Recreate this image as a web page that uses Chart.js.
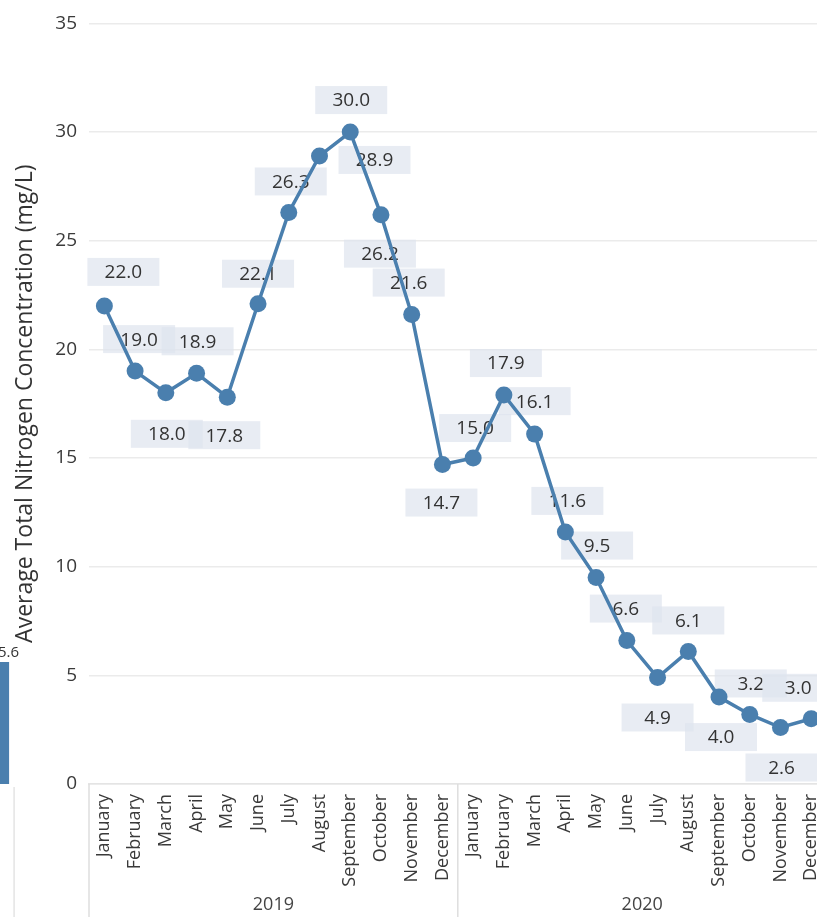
<!DOCTYPE html>
<html>
<head>
<meta charset="utf-8">
<script src="https://cdn.jsdelivr.net/npm/chart.js@4.4.1/dist/chart.umd.min.js"></script>
<style>
  html, body { margin: 0; padding: 0; background: #fff; overflow: hidden; }
  #side { position: absolute; left: -80px; top: 0; width: 100px; height: 917px; }
  #wrap { position: absolute; left: 0; top: 0; width: 843px; height: 917px; }
</style>
</head>
<body>
<div id="side"><canvas id="sideChart"></canvas></div>
<div id="wrap"><canvas id="chart"></canvas></div>
<script>
const months = ['January', 'February', 'March', 'April', 'May', 'June', 'July',
  'August', 'September', 'October', 'November', 'December'];
const years = ['2019', '2020'];
const nitrogen2019 = [22.0, 19.0, 18.0, 18.9, 17.8, 22.1, 26.3, 28.9, 30.0, 26.2, 21.6, 14.7];
const nitrogen2020 = [15.0, 17.9, 16.1, 11.6, 9.5, 6.6, 4.9, 6.1, 4.0, 3.2, 2.6, 3.0];
const yMin = 0;
const yMax = 35;
const yStep = 5;
// the cut-off bar of the neighbouring chart on the far left
const sideValues = [5.6];

const lineColor = '#4a7fae';
// where each value box sits relative to its point (styling only)
const labelOffsets = [
  [19, -34], [4, -32], [1, 41], [1, -32], [-3, 38], [0, -30],
  [2, -31], [55, 4], [1, -32], [-1, 39], [-3, -32], [-1, 38],
  [2, -30], [2, -32], [0, -33], [2, -31], [1, -32], [-1, -32],
  [0, 40], [0, -31], [2, 40], [1, -31], [1, 40], [-13, -31]
];

Chart.defaults.font.family = '"Open Sans", sans-serif';
Chart.defaults.color = '#444';

const pointLabels = {
  id: 'pointLabels',
  beforeDatasetsDraw(chart) {
    const ctx = chart.ctx;
    const meta = chart.getDatasetMeta(0);
    const values = chart.data.datasets[0].data;
    ctx.save();
    ctx.font = '19px "Open Sans", sans-serif';
    ctx.textAlign = 'center';
    ctx.textBaseline = 'middle';
    meta.data.forEach((pt, i) => {
      const [dx, dy] = labelOffsets[i];
      const x = pt.x + dx;
      const y = pt.y + dy;
      ctx.fillStyle = 'rgba(222, 228, 238, 0.7)';
      ctx.fillRect(x - 36, y - 14, 72, 28);
      ctx.fillStyle = '#333';
      ctx.fillText(values[i].toFixed(1), x, y + 1);
    });
    ctx.restore();
  }
};

const yearGroups = {
  id: 'yearGroups',
  afterDraw(chart) {
    const ctx = chart.ctx;
    const xs = chart.scales.x;
    const top = chart.chartArea.bottom;
    const bottom = chart.height;
    const mid = (xs.getPixelForValue(months.length - 1) + xs.getPixelForValue(months.length)) / 2;
    ctx.save();
    ctx.strokeStyle = '#dedede';
    ctx.lineWidth = 1.5;
    [xs.left, mid, xs.right].forEach((x) => {
      ctx.beginPath();
      ctx.moveTo(x, top);
      ctx.lineTo(x, bottom);
      ctx.stroke();
    });
    ctx.fillStyle = '#444';
    ctx.font = '18px "Open Sans", sans-serif';
    ctx.textAlign = 'center';
    ctx.textBaseline = 'middle';
    ctx.fillText(years[0], (xs.left + mid) / 2, 905);
    ctx.fillText(years[1], (mid + xs.right) / 2, 905);
    ctx.restore();
  }
};

new Chart(document.getElementById('chart'), {
  type: 'line',
  data: {
    labels: years.flatMap(() => months),
    datasets: [{
      data: nitrogen2019.concat(nitrogen2020),
      borderColor: lineColor,
      backgroundColor: lineColor,
      borderWidth: 3.5,
      pointRadius: 8.5,
      pointBorderWidth: 0,
      tension: 0,
      fill: false,
    }],
  },
  options: {
    responsive: true,
    maintainAspectRatio: false,
    animation: false,
    events: [],
    layout: { padding: { top: 21, left: 0, right: 0, bottom: 0 } },
    plugins: { legend: { display: false }, tooltip: { enabled: false } },
    scales: {
      x: {
        offset: true,
        grid: { display: false, drawTicks: false },
        border: { display: true, color: '#e4e4e4', width: 1.5 },
        ticks: { minRotation: 90, maxRotation: 90, autoSkip: false, padding: 10,
          font: { size: 18 }, color: '#3a3a3a' },
        afterFit: (s) => { s.height = 133; },
      },
      y: {
        min: yMin,
        max: yMax,
        ticks: { stepSize: yStep, padding: 12, font: { size: 19 }, color: '#3a3a3a' },
        grid: { color: '#ebebeb', lineWidth: 1.5, drawTicks: false },
        border: { display: false },
        title: { display: true, text: 'Average Total Nitrogen Concentration (mg/L)',
          font: { size: 23 }, color: '#333', padding: { top: 12, bottom: 0 } },
        afterFit: (s) => { s.width = 89; },
      },
    },
  },
  plugins: [pointLabels, yearGroups],
});

const sideLabel = {
  id: 'sideLabel',
  afterDatasetsDraw(chart) {
    const ctx = chart.ctx;
    const bar = chart.getDatasetMeta(0).data[0];
    ctx.save();
    ctx.font = '15px "Open Sans", sans-serif';
    ctx.fillStyle = '#333';
    ctx.textAlign = 'right';
    ctx.textBaseline = 'middle';
    ctx.fillText(chart.data.datasets[0].data[0].toFixed(1), bar.x + bar.width / 2 + 10, bar.y - 9);
    ctx.strokeStyle = '#e4e4e4';
    ctx.lineWidth = 1.5;
    ctx.beginPath();
    ctx.moveTo(bar.x + bar.width / 2 + 5, chart.chartArea.bottom + 3);
    ctx.lineTo(bar.x + bar.width / 2 + 5, chart.height);
    ctx.stroke();
    ctx.restore();
  }
};

new Chart(document.getElementById('sideChart'), {
  type: 'bar',
  data: {
    labels: [''],
    datasets: [{ data: sideValues, backgroundColor: lineColor, barPercentage: 0.98, categoryPercentage: 1 }],
  },
  options: {
    responsive: true,
    maintainAspectRatio: false,
    animation: false,
    events: [],
    layout: { padding: { top: 21, bottom: 133, left: 0, right: 10 } },
    plugins: { legend: { display: false }, tooltip: { enabled: false } },
    scales: { x: { display: false }, y: { display: false, min: yMin, max: yMax } },
  },
  plugins: [sideLabel],
});
</script>
</body>
</html>
